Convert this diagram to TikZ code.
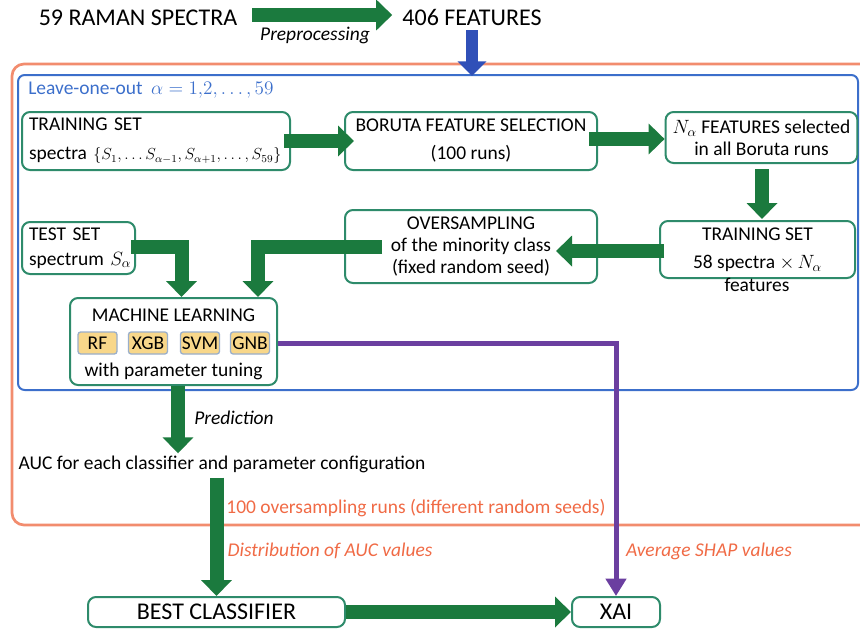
\documentclass[tikz,border=0pt]{standalone}
\usepackage{fontspec}
\setmainfont{Carlito}
\usepackage{amsmath}
\usetikzlibrary{arrows.meta}
\newlength\pxl \setlength\pxl{0.75pt}
\definecolor{agreen}{HTML}{1B7A3E}
\definecolor{boxgreen}{HTML}{2E8B6B}
\definecolor{oborder}{HTML}{F28C6E}
\definecolor{bblue}{HTML}{3C6FCB}
\definecolor{purp}{HTML}{6B3FA0}
\definecolor{barrowc}{HTML}{3050B8}
\definecolor{tagfill}{HTML}{F8D78A}
\definecolor{tagdraw}{HTML}{9AAFCB}
\definecolor{lorange}{HTML}{F06A45}
\begin{document}
\begin{tikzpicture}[x=0.75pt,y=-0.75pt,
  every node/.style={font=\fontsize{14.6}{17.5}\selectfont, inner sep=0pt},
  titletxt/.style={font=\fontsize{18}{21}\selectfont},
  itl/.style={font=\fontsize{14.6}{17.5}\selectfont\itshape},
  box/.style={draw=boxgreen, line width=1.5pt, rounded corners=6pt, fill=white, inner xsep=7\pxl},
  tag/.style={draw=tagdraw, line width=1pt, fill=tagfill, rounded corners=2pt, minimum width=39\pxl, minimum height=22\pxl},
  garrow/.style={draw=agreen, line width=10.5pt, -{Triangle[length=12pt,width=22.5pt]}},
  elbow/.style={garrow, rounded corners=0pt, line join=miter},
  barrow/.style={draw=barrowc, line width=9pt, -{Triangle[length=11pt,width=21pt]}},
  parrow/.style={draw=purp, line width=3.75pt, line join=miter, -{Triangle[length=13pt,width=15pt]}},
  olabel/.style={text=lorange}
]
\useasboundingbox (0,0) rectangle (860,632);

% containers
\draw[oborder, line width=2pt, rounded corners=9pt] (12,64) rectangle (880,525);
\draw[bblue, line width=1.5pt, rounded corners=5pt] (18,75) rectangle (858,390);

% top line
\node[titletxt] (raman) at (138,18) {59 RAMAN SPECTRA};
\node[titletxt] (feat) at (472,17) {406 FEATURES};
\node[itl] (prep) at (315,35) {Preprocessing};
\draw[garrow] ([xshift=15\pxl,yshift=3\pxl]raman.east) -- ([xshift=-10\pxl,yshift=2\pxl]feat.west);
\coordinate (looin) at (472,76);
\draw[barrow] ([yshift=-5\pxl]feat.south) -- (looin);

\node[anchor=west, text=bblue] (loo) at (28,90) {Leave-one-out\;\,$\alpha = 1{,}2, \dots, 59$};

% boxes row 1
\node[box, minimum width=268\pxl, minimum height=58\pxl, text width=254\pxl, align=left] (ts1) at (156,141)
  {\mbox{TRAINING SET}\\[4pt]\mbox{spectra {\fontsize{12}{15}\selectfont$\{S_1,\dots S_{\alpha-1},S_{\alpha+1},\dots,S_{59}\}$}}};
\node[box, minimum width=252\pxl, minimum height=58\pxl, align=center] (bor) at (471,141)
  {BORUTA FEATURE SELECTION\\[3.5pt](100 runs)};
\node[box, minimum width=191\pxl, minimum height=51\pxl, align=center] (nfeat) at (761.5,137.5)
  {$N_\alpha$ FEATURES selected\\[-1pt]in all Boruta runs};

% row 2
\node[box, minimum width=195\pxl, minimum height=57\pxl, align=center] (ts2) at (757.5,249.5)
  {TRAINING SET\\[3.5pt]58 spectra $\times\, N_\alpha$};
\node (ts2f) at (757,285) {features};
\node[box, minimum width=252\pxl, minimum height=73\pxl, align=center] (over) at (471,246.5)
  {OVERSAMPLING\\[-1pt]of the minority class\\[-1pt](fixed random seed)};
\node[box, minimum width=113\pxl, minimum height=52\pxl, text width=99\pxl, align=left] (test) at (78.5,248)
  {\mbox{TEST SET}\\[1pt]\mbox{spectrum $S_\alpha$}};

% machine learning
\node[box, minimum width=207\pxl, minimum height=87\pxl] (ml) at (173.5,341.5) {};
\node (mlt) at (173.5,315) {MACHINE LEARNING};
\node[tag] (rf) at (97.5,343) {RF};
\node[tag] (xgb) at (148,343) {XGB};
\node[tag] (svm) at (200,343) {SVM};
\node[tag] (gnb) at (250,343) {GNB};
\node (mltune) at (173.5,371) {with parameter tuning};

% arrows inside
\draw[garrow] ([xshift=-7\pxl]ts1.east) -- ([xshift=10\pxl]bor.west);
\draw[garrow] ([xshift=-9\pxl,yshift=2\pxl]bor.east) -- ([yshift=-1.5\pxl]nfeat.west);
\draw[garrow] ([xshift=0.5\pxl,yshift=-5\pxl]nfeat.south) -- ([xshift=4.5\pxl,yshift=1\pxl]ts2.north);
\draw[garrow] ([xshift=5\pxl,yshift=-1.5\pxl]ts2.west) -- ([xshift=-42\pxl,yshift=-4.5\pxl]over.east);
\draw[elbow] ([xshift=38\pxl]over.west) ++(0,0.5) -| ([xshift=189\pxl]ml.north west);
\draw[elbow] ([xshift=-5\pxl,yshift=1\pxl]test.east) -| ([xshift=8\pxl]ml.north);

% purple
\node[box, titletxt, minimum width=88\pxl, minimum height=30\pxl] (xai) at (616,612) {XAI};
\draw[parrow] ([yshift=-1.5\pxl]ml.east) -| (xai.north);

% prediction and AUC
\node (auc) at (222,464) {AUC for each classifier and parameter configuration};
\node[itl] (pred) at (234,418) {Prediction};
\draw[garrow] ([xshift=4.5\pxl]ml.south) -- ([xshift=-44\pxl,yshift=2\pxl]auc.north);

\node[olabel] (runs) at (416,508) {100 oversampling runs (different random seeds)};
\node[olabel, itl] (dist) at (330,551) {Distribution of AUC values};
\node[olabel, itl] (shap) at (709,551) {Average SHAP values};

\node[box, titletxt, minimum width=257\pxl, minimum height=30\pxl] (best) at (216.5,612) {BEST CLASSIFIER};
\draw[garrow] ([yshift=-5\pxl]auc.south -| best.north) -- (best.north);
\draw[garrow] (best.east) -- (xai.west);
\end{tikzpicture}
\end{document}
